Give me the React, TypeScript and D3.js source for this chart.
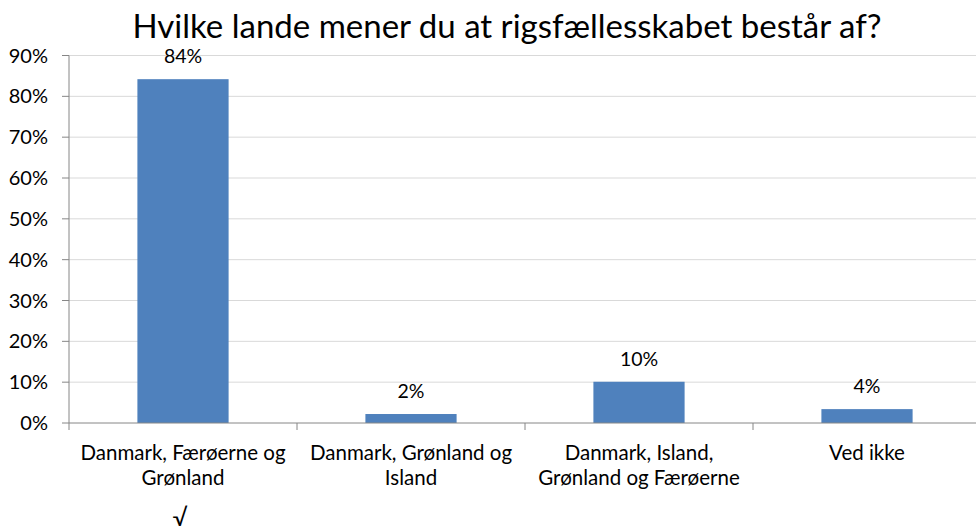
import React from "react";
import * as d3 from "d3";

const categories = [
  ["Danmark, Færøerne og", "Grønland"],
  ["Danmark, Grønland og", "Island"],
  ["Danmark, Island,", "Grønland og Færøerne"],
  ["Ved ikke"],
];
const values = [84.2, 2.2, 10.1, 3.4];
const valueLabels = ["84%", "2%", "10%", "4%"];
const yTicks = [0, 10, 20, 30, 40, 50, 60, 70, 80, 90];
const title = "Hvilke lande mener du at rigsfællesskabet består af?";
const marker = "√";

const W = 976, H = 531;
const x0 = 69, bandW = 228;
const yTop = 55.5, yBottom = 423;
const font = "Lato, 'Open Sans', sans-serif";

export default function App() {
  const x = d3.scaleBand<number>().domain(d3.range(categories.length)).range([x0, x0 + bandW * categories.length]).padding(0);
  const y = d3.scaleLinear().domain([0, 90]).range([yBottom, yTop]);
  const bw = x.bandwidth() * 0.4;
  const axisColor = "#868686";
  return (
    <svg width={W} height={H} style={{ position: "absolute", left: 0, top: 0, background: "#fff" }} fontFamily={font}>
      <text x={507} y={38} textAnchor="middle" fontSize={33} fill="#000">{title}</text>
      {yTicks.map((t) => (
        <g key={t}>
          {t > 0 && <line x1={x0} x2={W} y1={y(t)} y2={y(t)} stroke="#d9d9d9" strokeWidth={1} />}
          <line x1={62} x2={x0} y1={y(t)} y2={y(t)} stroke={axisColor} />
          <text x={48} y={y(t) + 7} textAnchor="end" fontSize={20} fill="#000">{t}%</text>
        </g>
      ))}
      {values.map((v, i) => {
        const cx = (x(i) as number) + x.bandwidth() / 2;
        return (
          <g key={i}>
            <rect x={cx - bw / 2} y={y(v)} width={bw} height={yBottom - y(v)} fill="#4f81bd" />
            <text x={cx} y={y(v) - 16} textAnchor="middle" fontSize={19.5} fill="#000">{valueLabels[i]}</text>
            {categories[i].map((line, j) => (
              <text key={j} x={cx} y={460 + j * 25} textAnchor="middle" fontSize={20.5} fill="#000">{line}</text>
            ))}
          </g>
        );
      })}
      <line x1={x0} x2={x0} y1={yTop} y2={yBottom} stroke={axisColor} />
      <line x1={x0} x2={W} y1={yBottom} y2={yBottom} stroke={axisColor} />
      {d3.range(categories.length + 1).map((i) => (
        <line key={i} x1={x0 + i * bandW} x2={x0 + i * bandW} y1={yBottom} y2={yBottom + 7} stroke={axisColor} />
      ))}
      <text x={180} y={526} textAnchor="middle" fontSize={24} fill="#000">{marker}</text>
    </svg>
  );
}
